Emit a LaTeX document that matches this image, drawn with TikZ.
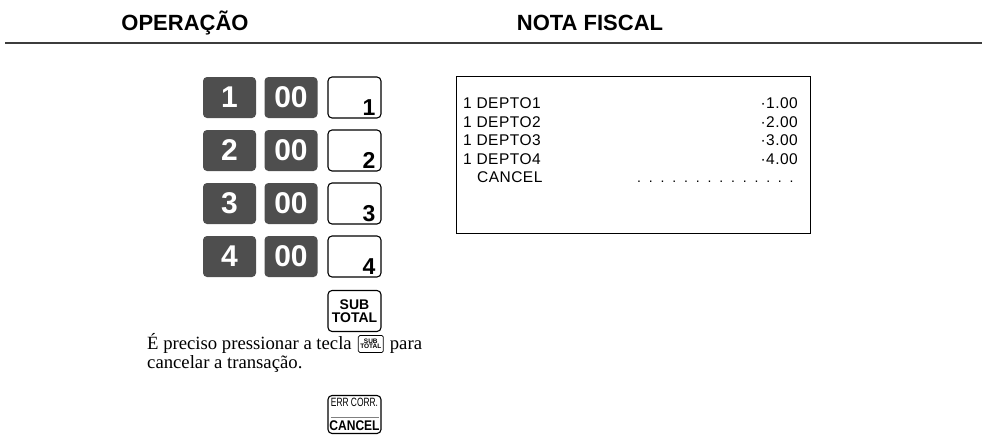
\documentclass[tikz,border=0pt]{standalone}
\usepackage{fontspec}
\setmainfont{Liberation Serif}
\setsansfont{Liberation Sans}
\newfontfamily\rcptfont[LetterSpace=3]{Liberation Sans}
\newfontfamily\dotfont[LetterSpace=56]{Liberation Sans}
\definecolor{keygray}{RGB}{78,78,78}
\definecolor{rulegray}{RGB}{60,60,60}
\tikzset{
  darkkey/.style={fill=keygray, rounded corners=4pt, minimum width=53pt, minimum height=41pt, inner sep=0pt, text=white, font=\sffamily\bfseries\fontsize{30}{30}\selectfont},
  whitekey/.style={draw=black, line width=1.1pt, rounded corners=4pt, minimum width=53pt, minimum height=41pt, inner sep=0pt},
  keydigit/.style={font=\sffamily\bfseries\fontsize{23}{23}\selectfont, anchor=south east, inner sep=0pt, xshift=-6pt, yshift=3pt},
  headtext/.style={font=\sffamily\bfseries\fontsize{22}{22}\selectfont, inner sep=0pt},
  rcpt/.style={font=\rcptfont\fontsize{15.5}{15.5}\selectfont, inner sep=0pt},
  bodytext/.style={font=\fontsize{18.7}{19}\selectfont, inner sep=0pt},
  smallkey/.style={draw=black, line width=0.7pt, rounded corners=1.5pt, minimum width=25pt, minimum height=17pt, inner sep=0pt, align=center, font=\sffamily\bfseries\fontsize{6.5}{6.5}\selectfont},
  bigfnkey/.style={draw=black, line width=1.1pt, rounded corners=4pt, minimum width=53pt, minimum height=41pt, inner sep=0pt, align=center, font=\sffamily\bfseries\fontsize{14}{14}\selectfont}
}
\begin{document}
\begin{tikzpicture}[x=1pt,y=-1pt]
\useasboundingbox (0,0) rectangle (982,434);
% header
\node[headtext] (hop) at (185,23) {OPERAÇÃO};
\node[headtext] (hnf) at (590,23) {NOTA FISCAL};
\coordinate (rl) at (5,43);
\coordinate (rr) at (982,43);
\draw[line width=1.5pt, rulegray] (rl) -- (rr);
% key rows
\foreach \d/\y in {1/97.5, 2/150.5, 3/203.5, 4/256.5}{
  \node[darkkey] (n\d) at (229.5,\y) {\d};
  \node[darkkey] (z\d) at (291,\y) {00};
  \node[whitekey, label={[keydigit]south east:\d}] (w\d) at (354.5,\y) {};
}
\node[bigfnkey] (st) at (354.5,311) {SUB\\[-1.5pt]TOTAL};
% text
\node[bodytext, anchor=base west] (t1a) at (147,349) {É preciso pressionar a tecla};
\node[smallkey, anchor=west, xshift=6pt, yshift=5pt] (ik) at (t1a.base east) {SUB\\[-1pt]TOTAL};
\node[bodytext, anchor=base west, xshift=6pt] (t1b) at (ik.east |- t1a.base) {para};
\node[bodytext, anchor=base west] (t2) at (147,368) {cancelar a transação.};
% err corr key
\node[bigfnkey, minimum height=38pt] (ec) at (354.5,414.5) {\fontsize{12}{12}\selectfont\mdseries\scalebox{0.7}[1]{ERR CORR.}\\[-3pt]\textcolor{gray}{\rule{48pt}{0.6pt}}\\[-1pt]\scalebox{0.86}[1]{CANCEL}};
% receipt
\node[draw=black, line width=1pt, minimum width=354pt, minimum height=157pt, anchor=north west, inner sep=0pt] (rc) at (456,76) {};
\node[rcpt, anchor=base west] (r1) at (463,108.5) {1 DEPTO1};
\node[rcpt, anchor=base west] (r2) at (463,127) {1 DEPTO2};
\node[rcpt, anchor=base west] (r3) at (463,145.5) {1 DEPTO3};
\node[rcpt, anchor=base west] (r4) at (463,164) {1 DEPTO4};
\node[rcpt, anchor=base west] (r5) at (477,182.5) {CANCEL};
\node[rcpt, anchor=base east] (v1) at (798,108.5) {·1.00};
\node[rcpt, anchor=base east] (v2) at (798,127) {·2.00};
\node[rcpt, anchor=base east] (v3) at (798,145.5) {·3.00};
\node[rcpt, anchor=base east] (v4) at (798,164) {·4.00};
\node[inner sep=0pt, anchor=base west, font=\dotfont\fontsize{14}{14}\selectfont] (v5) at (637,182.5) {..............};
\end{tikzpicture}
\end{document}
